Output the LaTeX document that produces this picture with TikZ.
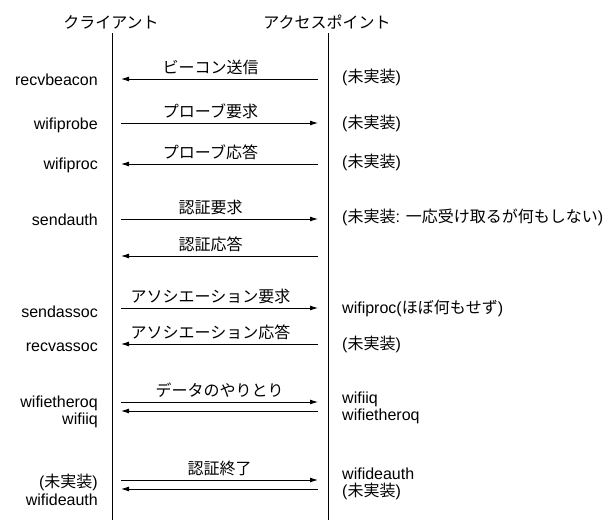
\documentclass[tikz,border=0pt]{standalone}
\usepackage{fontspec}
\setmainfont{Liberation Sans}
\newfontfamily\jafont{Noto Sans CJK JP}
\newcommand{\ja}[1]{{\jafont #1}}
\usetikzlibrary{arrows.meta}

\begin{document}
\begin{tikzpicture}[
	x=1pt, y=-1pt,
	every node/.style={font=\fontsize{16}{17.5}\selectfont, inner sep=0pt},
	lifeline/.style={line width=0.9pt},
	msg/.style={line width=0.9pt, -{Latex[length=8pt,width=5pt]}},
	msglabel/.style={above=4pt, xshift=-9pt},
	msglabelc/.style={above=4pt},
	fname/.style={anchor=east, align=right},
	note/.style={anchor=west, align=left}
]
\useasboundingbox (0,0) rectangle (614,530);

% 見出し
\node (cli) at (111,22) {\ja{クライアント}};
\node (ap) at (327,22) {\ja{アクセスポイント}};

% ライフライン
\coordinate (cli top) at (112,33);
\coordinate (cli bot) at (112,520);
\coordinate (ap top) at (328,33);
\coordinate (ap bot) at (328,520);
\draw[lifeline] (cli top) -- (cli bot);
\draw[lifeline] (ap top) -- (ap bot);

% メッセージの端点
\coordinate (c1) at (121,79);  \coordinate (a1) at (318,79);
\coordinate (c2) at (121,123); \coordinate (a2) at (318,123);
\coordinate (c3) at (121,164); \coordinate (a3) at (318,164);
\coordinate (c4) at (121,219); \coordinate (a4) at (318,219);
\coordinate (c5) at (121,256); \coordinate (a5) at (318,256);
\coordinate (c6) at (121,308); \coordinate (a6) at (318,308);
\coordinate (c7) at (121,344); \coordinate (a7) at (318,344);
\coordinate (c8) at (121,402); \coordinate (a8) at (318,402);
\coordinate (c8b) at (121,411); \coordinate (a8b) at (318,411);
\coordinate (c9) at (121,480); \coordinate (a9) at (318,480);
\coordinate (c9b) at (121,489); \coordinate (a9b) at (318,489);

% メッセージ
\draw[msg] (a1) -- node[msglabel] (m1) {\ja{ビーコン送信}} (c1);
\draw[msg] (c2) -- node[msglabel] (m2) {\ja{プローブ要求}} (a2);
\draw[msg] (a3) -- node[msglabel] (m3) {\ja{プローブ応答}} (c3);
\draw[msg] (c4) -- node[msglabel] (m4) {\ja{認証要求}} (a4);
\draw[msg] (a5) -- node[msglabel] (m5) {\ja{認証応答}} (c5);
\draw[msg] (c6) -- node[msglabel] (m6) {\ja{アソシエーション要求}} (a6);
\draw[msg] (a7) -- node[msglabel] (m7) {\ja{アソシエーション応答}} (c7);
\draw[msg] (c8) -- node[msglabelc] (m8) {\ja{データのやりとり}} (a8);
\draw[msg] (a8b) -- (c8b);
\draw[msg] (c9) -- node[msglabelc] (m9) {\ja{認証終了}} (a9);
\draw[msg] (a9b) -- (c9b);

% クライアント側の関数
\node[fname] (f1) at (98,80) {recvbeacon};
\node[fname] (f2) at (98,125) {wifiprobe};
\node[fname] (f3) at (98,165) {wifiproc};
\node[fname] (f4) at (98,220) {sendauth};
\node[fname] (f6) at (98,312) {sendassoc};
\node[fname] (f7) at (98,347) {recvassoc};
\node[fname] (f8) at (98,412) {wifietheroq\\wifiiq};
\node[fname] (f9) at (98,490) {(\ja{未実装})\\wifideauth};

% アクセスポイント側の関数
\node[note] (n1) at (342,77) {(\ja{未実装})};
\node[note] (n2) at (342,123) {(\ja{未実装})};
\node[note] (n3) at (342,162) {(\ja{未実装})};
\node[note] (n4) at (342,217) {(\ja{未実装}: \ja{一応受け取るが何もしない})};
\node[note] (n6) at (342,308) {wifiproc(\ja{ほぼ何もせず})};
\node[note] (n7) at (342,344) {(\ja{未実装})};
\node[note] (n8) at (342,408) {wifiiq\\wifietheroq};
\node[note] (n9) at (342,484) {wifideauth\\(\ja{未実装})};

\end{tikzpicture}
\end{document}
